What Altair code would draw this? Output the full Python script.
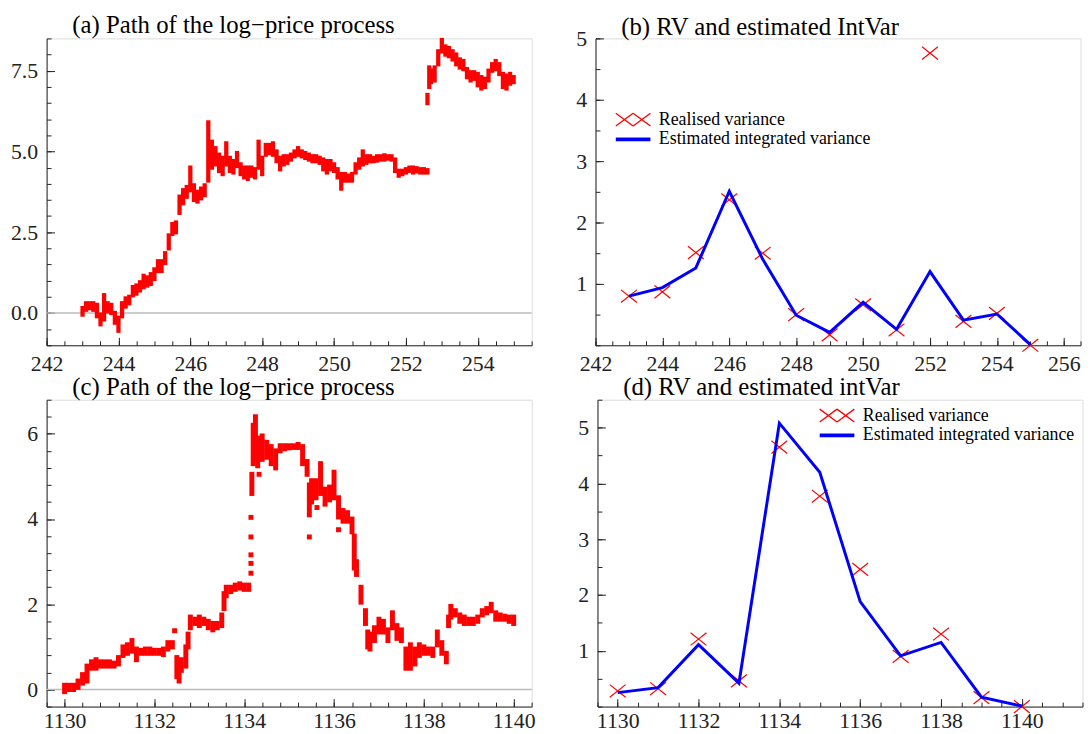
import altair as alt
import pandas as pd

FONT = "Liberation Serif"
RED = "#ff0000"
BLUE = "#0000ff"
AXC = "#222222"
W, H = 490, 310

# ---------------- panel (a): log-price path, days 243-255 ----------------
a_x = [243.0, 243.1, 243.2, 243.3, 243.4, 243.5, 243.6, 243.7, 243.8, 243.9,
       244.0, 244.1, 244.2, 244.3, 244.4, 244.5, 244.6, 244.7, 244.8, 244.9,
       245.0, 245.1, 245.2, 245.3, 245.4, 245.5, 245.6, 245.7, 245.8, 245.9,
       246.0, 246.1, 246.2, 246.3, 246.4, 246.5, 246.6, 246.7, 246.8, 246.9,
       247.0, 247.1, 247.2, 247.3, 247.4, 247.5, 247.6, 247.7, 247.8, 247.9,
       248.0, 248.1, 248.2, 248.3, 248.4, 248.5, 248.6, 248.7, 248.8, 248.9,
       249.0, 249.1, 249.2, 249.3, 249.4, 249.5, 249.6, 249.7, 249.8, 249.9,
       250.0, 250.1, 250.2, 250.3, 250.4, 250.5, 250.6, 250.7, 250.8, 250.9,
       251.0, 251.1, 251.2, 251.3, 251.4, 251.5, 251.6, 251.7, 251.8, 251.9,
       252.0, 252.1, 252.2, 252.3, 252.4, 252.5, 252.6, 252.6, 252.65, 252.7,
       252.8, 252.9, 253.0, 253.1, 253.2, 253.3, 253.4, 253.5, 253.6, 253.7,
       253.8, 253.9, 254.0, 254.1, 254.2, 254.3, 254.4, 254.5, 254.6, 254.7,
       254.8, 254.9, 255.0]
a_lo = [-0.05, 0.10, 0.15, 0.10, -0.10, -0.35, -0.20, 0.05, 0.00, -0.30,
        -0.55, -0.10, 0.20, 0.30, 0.55, 0.60, 0.70, 0.80, 0.85, 0.90,
        1.05, 1.30, 1.30, 1.55, 2.00, 2.45, 2.50, 3.10, 3.40, 3.60,
        3.80, 3.50, 3.45, 3.55, 3.65, 4.10, 4.50, 4.60, 4.40, 4.30,
        4.60, 4.40, 4.35, 4.55, 4.30, 4.20, 4.15, 4.25, 4.20, 4.50,
        4.30, 4.90, 4.95, 4.90, 4.70, 4.45, 4.60, 4.65, 4.75, 4.85,
        4.90, 4.85, 4.80, 4.75, 4.70, 4.70, 4.65, 4.45, 4.35, 4.45,
        4.40, 4.20, 3.85, 4.10, 4.10, 4.10, 4.35, 4.50, 4.60, 4.65,
        4.70, 4.70, 4.72, 4.75, 4.75, 4.78, 4.75, 4.40, 4.25, 4.30,
        4.35, 4.40, 4.35, 4.38, 4.35, 4.35, 4.35, 6.50, 7.00, 7.15,
        7.20, 7.70, 8.10, 8.00, 7.95, 7.85, 7.70, 7.60, 7.55, 7.30,
        7.20, 7.25, 7.05, 6.95, 7.00, 7.20, 7.50, 7.55, 7.40, 7.00,
        6.95, 7.10, 7.15]
a_hi = [0.15, 0.30, 0.30, 0.30, 0.25, -0.05, 0.55, 0.30, 0.25, 0.00,
        -0.15, 0.30, 0.45, 0.50, 0.80, 0.85, 0.95, 1.15, 1.10, 1.20,
        1.35, 1.60, 1.60, 1.85, 2.40, 2.75, 2.80, 3.60, 3.80, 3.90,
        4.50, 3.95, 3.75, 3.85, 3.95, 5.90, 5.30, 5.10, 4.90, 4.80,
        5.25, 4.80, 4.70, 4.95, 4.60, 4.50, 4.50, 4.50, 4.45, 5.30,
        4.80, 5.20, 5.20, 5.25, 5.00, 4.80, 4.85, 4.85, 4.90, 5.00,
        5.10, 5.00, 4.95, 4.90, 4.85, 4.85, 4.80, 4.75, 4.70, 4.70,
        4.60, 4.45, 4.30, 4.30, 4.25, 4.30, 4.60, 4.75, 5.00, 4.85,
        4.85, 4.80, 4.85, 4.85, 4.88, 4.85, 4.85, 4.75, 4.40, 4.40,
        4.45, 4.50, 4.50, 4.48, 4.45, 4.45, 4.42, 6.75, 7.60, 7.50,
        7.60, 8.10, 8.45, 8.25, 8.20, 8.10, 8.00, 7.85, 7.80, 7.55,
        7.45, 7.45, 7.40, 7.30, 7.25, 7.50, 7.70, 7.80, 7.70, 7.40,
        7.35, 7.40, 7.30]

# ---------------- panel (b): RV and estimated IntVar ----------------
b_day = [243, 244, 245, 246, 247, 248, 249, 250, 251, 252, 253, 254, 255]
b_rv = [0.80, 0.87, 1.51, 2.37, 1.50, 0.50, 0.17, 0.66, 0.25, 4.76, 0.39, 0.52, 0.00]
b_iv = [0.80, 0.94, 1.26, 2.51, 1.40, 0.49, 0.21, 0.70, 0.26, 1.20, 0.41, 0.51, 0.01]

# ---------------- panel (c): log-price path, days 1130-1140 ----------------
c_x = [1130.0, 1130.1, 1130.2, 1130.3, 1130.4, 1130.5, 1130.6, 1130.7, 1130.8, 1130.9,
       1131.0, 1131.1, 1131.2, 1131.3, 1131.4, 1131.5, 1131.6, 1131.7, 1131.8, 1131.9,
       1132.0, 1132.1, 1132.2, 1132.3, 1132.4, 1132.45, 1132.5, 1132.55, 1132.6, 1132.7,
       1132.75, 1132.8, 1132.9, 1133.0, 1133.1, 1133.2, 1133.3, 1133.4, 1133.5, 1133.55,
       1133.6, 1133.7, 1133.8, 1133.9, 1134.0, 1134.1, 1134.15, 1134.15, 1134.15, 1134.15,
       1134.15, 1134.17, 1134.2, 1134.25, 1134.3, 1134.33, 1134.4, 1134.5, 1134.6, 1134.7,
       1134.8, 1134.9, 1135.0, 1135.1, 1135.2, 1135.3, 1135.4, 1135.45, 1135.45, 1135.5,
       1135.6, 1135.62, 1135.7, 1135.8, 1135.9, 1136.0, 1136.1, 1136.1, 1136.2, 1136.3,
       1136.4, 1136.45, 1136.5, 1136.6, 1136.7, 1136.75, 1136.8, 1136.9, 1137.0, 1137.1,
       1137.2, 1137.3, 1137.4, 1137.5, 1137.6, 1137.7, 1137.8, 1137.9, 1138.0, 1138.1,
       1138.2, 1138.3, 1138.4, 1138.5, 1138.55, 1138.6, 1138.7, 1138.8, 1138.9, 1139.0,
       1139.1, 1139.2, 1139.3, 1139.4, 1139.5, 1139.6, 1139.7, 1139.8, 1139.9, 1140.0]
c_lo = [-0.05, 0.00, 0.00, 0.05, 0.15, 0.20, 0.50, 0.50, 0.55, 0.55,
        0.55, 0.55, 0.60, 0.80, 0.85, 0.90, 0.70, 0.85, 0.85, 0.85,
        0.85, 0.85, 0.82, 0.95, 1.00, 1.38, 0.30, 0.20, 0.45, 0.55,
        1.00, 1.45, 1.55, 1.50, 1.55, 1.45, 1.40, 1.45, 1.50, 1.90,
        2.20, 2.30, 2.35, 2.38, 2.35, 2.35, 2.73, 2.96, 3.16, 3.58,
        4.04, 4.60, 5.30, 5.40, 5.25, 5.05, 5.40, 5.45, 5.30, 5.20,
        5.60, 5.65, 5.67, 5.68, 5.68, 5.30, 5.05, 4.10, 3.58, 4.40,
        4.50, 4.27, 4.60, 4.35, 4.45, 4.50, 4.05, 3.75, 3.95, 3.95,
        3.70, 2.85, 2.70, 2.05, 1.55, 1.00, 0.95, 1.15, 1.35, 1.35,
        1.15, 1.45, 1.20, 1.15, 0.50, 0.50, 0.60, 0.80, 0.85, 0.85,
        0.80, 1.05, 0.85, 0.65, 1.50, 1.70, 1.75, 1.60, 1.55, 1.55,
        1.55, 1.60, 1.75, 1.80, 1.85, 1.65, 1.65, 1.65, 1.60, 1.55]
c_hi = [0.10, 0.10, 0.10, 0.20, 0.35, 0.55, 0.65, 0.70, 0.65, 0.65,
        0.65, 0.62, 0.75, 1.00, 1.05, 1.15, 0.95, 0.92, 0.95, 0.95,
        0.92, 0.92, 0.95, 1.10, 1.10, 1.38, 0.75, 0.60, 0.70, 1.00,
        1.30, 1.70, 1.65, 1.70, 1.65, 1.60, 1.55, 1.55, 1.75, 2.25,
        2.40, 2.40, 2.45, 2.48, 2.45, 2.45, 2.73, 2.96, 3.16, 3.58,
        4.04, 5.05, 6.20, 6.40, 5.90, 5.05, 5.95, 5.80, 5.70, 5.60,
        5.72, 5.72, 5.72, 5.72, 5.75, 5.70, 5.35, 4.80, 3.58, 4.90,
        4.90, 4.27, 5.30, 4.70, 4.75, 5.10, 4.50, 3.75, 4.20, 4.15,
        4.00, 3.60, 3.00, 2.40, 1.85, 1.35, 1.30, 1.45, 1.65, 1.60,
        1.40, 1.80, 1.50, 1.40, 0.95, 1.05, 0.95, 1.05, 1.00, 0.95,
        0.95, 1.35, 1.10, 0.85, 1.70, 1.95, 1.85, 1.75, 1.70, 1.65,
        1.65, 1.70, 1.85, 1.90, 2.00, 1.80, 1.75, 1.72, 1.70, 1.70]

# ---------------- panel (d): RV and estimated intVar ----------------
d_day = [1130, 1131, 1132, 1133, 1134, 1135, 1136, 1137, 1138, 1139, 1140]
d_rv = [0.28, 0.32, 1.21, 0.46, 4.65, 3.77, 2.46, 0.90, 1.30, 0.16, 0.00]
d_iv = [0.25, 0.34, 1.11, 0.42, 5.08, 4.20, 1.88, 0.91, 1.15, 0.17, 0.01]

RV_LABEL = "Realised variance"
IV_LABEL = "Estimated integrated variance"
series_names = [RV_LABEL, IV_LABEL]

X_PATH = "M-1,-0.8L1,0.8M-1,0.8L1,-0.8"
# legend symbols drawn with a small nominal symbol size (18px box) but wider paths
XX_PATH = ("M-1.944,-0.72L0,0.72M-1.944,0.72L0,-0.72"
           "M0,-0.72L1.944,0.72M0,0.72L1.944,-0.72")
BAR_PATH = ("M-1.944,-0.133L1.944,-0.133M-1.944,-0.044L1.944,-0.044"
            "M-1.944,0.044L1.944,0.044M-1.944,0.133L1.944,0.133")


def steps(start, stop, step):
    n = int(round((stop - start) / step))
    return [round(start + i * step, 4) for i in range(n + 1)]


def main_x_axis(values, pad):
    return alt.Axis(orient="bottom", values=values, format="d", ticks=False, tickSize=0,
                    grid=False, domain=True, domainColor=AXC, domainWidth=1,
                    labelFont=FONT, labelFontSize=22, labelColor=AXC, labelPadding=pad,
                    labelFlush=False, labelOverlap=False, title=None,
                    minExtent=20, maxExtent=20)


def main_y_axis(values, fmt):
    return alt.Axis(orient="left", values=values, format=fmt, ticks=False, tickSize=0,
                    grid=False, domain=True, domainColor=AXC, domainWidth=1,
                    labelFont=FONT, labelFontSize=22, labelColor=AXC, labelPadding=9,
                    labelFlush=False, labelOverlap=False, title=None,
                    minExtent=38, maxExtent=38)


def tick_layer(df, xf, yf, xs, ys, xv, yv, size):
    xa = alt.Axis(orient="top", offset=-H, values=xv, tickSize=size, ticks=True,
                  labels=False, domain=False, grid=False, title=None,
                  tickColor=AXC, tickWidth=1, minExtent=0, maxExtent=0)
    ya = alt.Axis(orient="right", offset=-W, values=yv, tickSize=size, ticks=True,
                  labels=False, domain=False, grid=False, title=None,
                  tickColor=AXC, tickWidth=1, minExtent=0, maxExtent=0)
    return alt.Chart(df).mark_point(opacity=0).encode(
        x=alt.X(xf, scale=xs, axis=xa), y=alt.Y(yf, scale=ys, axis=ya))


def title(text, dy):
    return alt.TitleParams(text, anchor="start", frame="group", dx=26, dy=dy, offset=4,
                           baseline="alphabetic", font=FONT, fontSize=25,
                           fontWeight="normal", color="black")


def path_panel(xs_, lo_, hi_, xdom, ydom, xmaj, xmin, ymaj, ymin, yfmt, ttl, sw, dy, pad):
    df = pd.DataFrame({"x": xs_, "lo": lo_, "hi": hi_})
    xs = alt.Scale(domain=xdom, nice=False, zero=False)
    ys = alt.Scale(domain=ydom, nice=False, zero=False)
    zero = alt.Chart(pd.DataFrame({"z": [0.0]})).mark_rule(
        color="#bbbbbb", strokeWidth=1.5).encode(y=alt.Y("z:Q", scale=ys, axis=None))
    trace = alt.Chart(df).mark_rule(color=RED, strokeWidth=sw, strokeCap="square").encode(
        x=alt.X("x:Q", scale=xs, axis=main_x_axis(xmaj, pad)),
        y=alt.Y("lo:Q", scale=ys, axis=main_y_axis(ymaj, yfmt)),
        y2="hi:Q")
    t1 = tick_layer(df, "x:Q", "lo:Q", xs, ys, xmaj, ymaj, 8)
    t2 = tick_layer(df, "x:Q", "lo:Q", xs, ys, xmin, ymin, 4.5)
    return alt.layer(zero, trace, t1, t2).resolve_axis(
        x="independent", y="independent").properties(width=W, height=H, title=title(ttl, dy))


def rv_panel(day, rv, iv, xdom, ydom, xmaj, xmin, ymaj, ymin, ttl, lx, ly, dy, pad):
    df = pd.DataFrame({"day": day, "rv": rv, "iv": iv})
    xs = alt.Scale(domain=xdom, nice=False, zero=False)
    ys = alt.Scale(domain=ydom, nice=False, zero=False)
    crosses = alt.Chart(df).mark_point(shape=X_PATH, size=256, filled=False, color=RED,
                                       strokeWidth=1.2, opacity=1).encode(
        x=alt.X("day:Q", scale=xs, axis=main_x_axis(xmaj, pad)),
        y=alt.Y("rv:Q", scale=ys, axis=main_y_axis(ymaj, "d")))
    line = alt.Chart(df).mark_line(color=BLUE, strokeWidth=3).encode(
        x=alt.X("day:Q", scale=xs, axis=None),
        y=alt.Y("iv:Q", scale=ys, axis=None))
    leg = alt.Legend(title=None, orient="none", legendX=lx, legendY=ly,
                     labelFont=FONT, labelFontSize=18, labelColor="black",
                     symbolSize=324, symbolStrokeWidth=1.3, labelOffset=16,
                     padding=0, rowPadding=0, labelLimit=400)
    legend_layer = alt.Chart(pd.DataFrame({"series": series_names})).transform_filter(
        "false").mark_point(filled=False, strokeWidth=1.3, opacity=1).encode(
        color=alt.Color("series:N", scale=alt.Scale(domain=series_names, range=[RED, BLUE]),
                        legend=leg),
        shape=alt.Shape("series:N", scale=alt.Scale(domain=series_names,
                                                     range=[XX_PATH, BAR_PATH]),
                        legend=leg))
    t1 = tick_layer(df, "day:Q", "rv:Q", xs, ys, xmaj, ymaj, 8)
    t2 = tick_layer(df, "day:Q", "rv:Q", xs, ys, xmin, ymin, 4.5)
    return alt.layer(crosses, line, legend_layer, t1, t2).resolve_axis(
        x="independent", y="independent").properties(width=W, height=H, title=title(ttl, dy))


pa = path_panel(a_x, a_lo, a_hi, [242, 255.5], [-1, 8.5],
                steps(242, 254, 2), steps(242, 255.5, 0.5),
                [0, 2.5, 5, 7.5], steps(-1, 8.5, 0.5), ".1f",
                "(a) Path of the log\u2212price process", 4.3, 25, 8)
pb = rv_panel(b_day, b_rv, b_iv, [242, 256.5], [0, 5],
              steps(242, 256, 2), steps(242, 256.5, 0.5),
              [1, 2, 3, 4, 5], steps(0, 5, 0.5),
              "(b) RV and estimated IntVar", 28, 72, 37, 8)
pc = path_panel(c_x, c_lo, c_hi, [1129.6, 1140.4], [-0.4, 6.8],
                steps(1130, 1140, 2), steps(1129.6, 1140.4, 0.4),
                [0, 2, 4, 6], steps(-0.4, 6.8, 0.4), "d",
                "(c) Path of the log\u2212price process", 5, 25, 4)
pd_ = rv_panel(d_day, d_rv, d_iv, [1129.5, 1141.5], [0, 5.5],
               steps(1130, 1140, 2), steps(1129.5, 1141.5, 0.5),
               [1, 2, 3, 4, 5], steps(0, 5.5, 0.5),
               "(d) RV and estimated intVar", 232, 6, 25, 4)

top = alt.hconcat(pa, pb, spacing=23.5).resolve_scale(color="independent", shape="independent")
bottom = alt.hconcat(pc, pd_, spacing=23.5).resolve_scale(color="independent", shape="independent")
chart = alt.vconcat(top, bottom, spacing=0).resolve_scale(
    color="independent", shape="independent").properties(
    padding={"top": 1, "left": 0, "right": 0, "bottom": 0},
    background="white").configure_view(strokeWidth=0).configure(font=FONT)

chart.save("out.html", embed_options={"renderer": "svg", "actions": False})
